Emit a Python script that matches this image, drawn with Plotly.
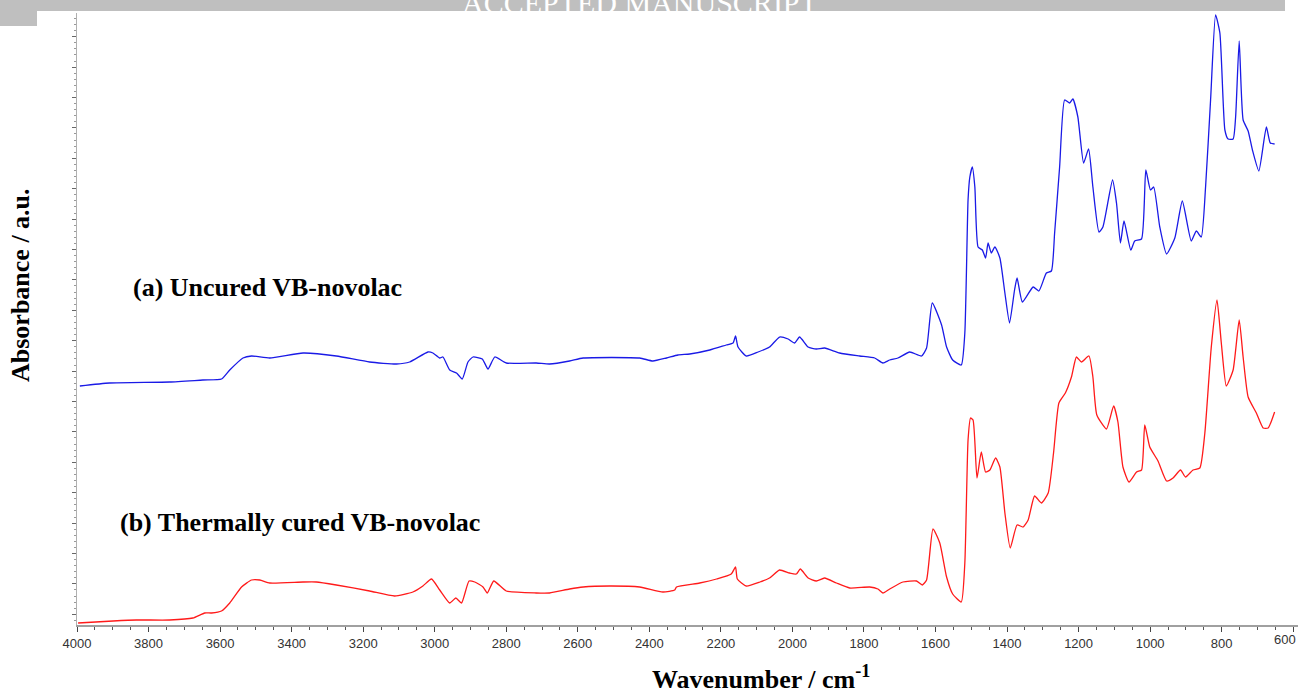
import plotly.graph_objects as go

# (a) Uncured VB-novolac
wn_a = [3992, 3909, 3741, 3648, 3596, 3573, 3536, 3512, 3461, 3368, 3275, 3182, 3107, 3070,
        3019, 3005, 2986, 2977, 2958, 2939, 2923, 2907, 2893, 2867, 2851, 2832, 2800, 2716,
        2679, 2623, 2585, 2427, 2390, 2352, 2320, 2287, 2231, 2185, 2166, 2159, 2152, 2129,
        2096, 2064, 2036, 2012, 1994, 1980, 1956, 1933, 1910, 1868, 1812, 1770, 1747, 1728,
        1705, 1672, 1639, 1625, 1609, 1583, 1569, 1552, 1528, 1518, 1509, 1504, 1497, 1490,
        1481, 1469, 1460, 1453, 1444, 1434, 1420, 1406, 1393, 1379, 1372, 1357, 1327, 1311,
        1290, 1276, 1267, 1253, 1239, 1225, 1216, 1202, 1186, 1172, 1160, 1143, 1132, 1105,
        1094, 1083, 1073, 1054, 1043, 1024, 1012, 999, 990, 973, 954, 931, 910, 885, 871,
        857, 845, 831, 817, 805, 791, 782, 768, 761, 751, 740, 726, 714, 696, 675, 664, 652]
abs_a = [2.39, 2.42, 2.43, 2.45, 2.46, 2.55, 2.67, 2.69, 2.67, 2.72, 2.69, 2.63, 2.61, 2.63,
         2.73, 2.72, 2.67, 2.68, 2.55, 2.52, 2.46, 2.63, 2.68, 2.66, 2.56, 2.68, 2.62, 2.62,
         2.61, 2.64, 2.67, 2.67, 2.64, 2.67, 2.70, 2.71, 2.75, 2.80, 2.82, 2.89, 2.78, 2.69,
         2.73, 2.78, 2.88, 2.86, 2.82, 2.88, 2.78, 2.76, 2.77, 2.72, 2.69, 2.67, 2.62, 2.65,
         2.67, 2.73, 2.69, 2.77, 3.22, 3.00, 2.78, 2.65, 2.60, 2.92, 4.25, 4.48, 4.58, 4.38,
         3.78, 3.75, 3.67, 3.82, 3.72, 3.78, 3.67, 3.32, 3.02, 3.35, 3.47, 3.23, 3.38, 3.34,
         3.52, 3.54, 3.92, 4.58, 5.25, 5.22, 5.26, 5.08, 4.62, 4.76, 4.38, 3.93, 3.98, 4.45,
         4.22, 3.82, 4.04, 3.75, 3.84, 3.86, 4.55, 4.35, 4.38, 3.98, 3.71, 3.87, 4.24, 3.84, 3.94,
         3.88, 4.38, 5.25, 6.10, 5.92, 4.95, 4.86, 4.86, 5.08, 5.84, 5.05, 4.94, 4.75, 4.54, 4.98, 4.82, 4.81]

# (b) Thermally cured VB-novolac
wn_b = [3997, 3899, 3834, 3741, 3676, 3643, 3624, 3596, 3573, 3540, 3512, 3489, 3461, 3368,
        3331, 3275, 3182, 3112, 3061, 3033, 3009, 2986, 2958, 2941, 2925, 2904, 2888, 2865,
        2853, 2835, 2800, 2716, 2679, 2623, 2585, 2511, 2427, 2362, 2329, 2324, 2259, 2212,
        2171, 2159, 2154, 2129, 2091, 2064, 2036, 2008, 1989, 1978, 1956, 1933, 1910, 1877,
        1840, 1784, 1761, 1747, 1728, 1691, 1653, 1637, 1625, 1607, 1588, 1569, 1552, 1528,
        1518, 1509, 1502, 1495, 1484, 1472, 1460, 1448, 1432, 1420, 1406, 1391, 1372, 1355,
        1341, 1323, 1304, 1285, 1270, 1255, 1237, 1220, 1206, 1192, 1171, 1160, 1149, 1122,
        1102, 1090, 1076, 1059, 1038, 1024, 1015, 1001, 978, 954, 936, 915, 901, 880, 861,
        847, 829, 813, 801, 787, 768, 751, 740, 726, 703, 684, 670, 652]
abs_b = [0.02, 0.04, 0.05, 0.05, 0.07, 0.12, 0.12, 0.14, 0.22, 0.38, 0.45, 0.45, 0.42, 0.43,
         0.43, 0.40, 0.34, 0.29, 0.33, 0.39, 0.46, 0.35, 0.22, 0.27, 0.22, 0.44, 0.43, 0.38,
         0.32, 0.44, 0.34, 0.32, 0.32, 0.36, 0.38, 0.39, 0.38, 0.33, 0.35, 0.38, 0.42, 0.46,
         0.51, 0.58, 0.46, 0.39, 0.43, 0.47, 0.55, 0.52, 0.51, 0.56, 0.47, 0.44, 0.47, 0.42,
         0.37, 0.38, 0.36, 0.32, 0.36, 0.43, 0.44, 0.40, 0.45, 0.96, 0.82, 0.48, 0.31, 0.23,
         0.62, 1.85, 2.07, 2.05, 1.47, 1.73, 1.53, 1.55, 1.67, 1.58, 1.12, 0.77, 1.00, 0.98,
         1.05, 1.29, 1.22, 1.32, 1.72, 2.22, 2.32, 2.48, 2.68, 2.63, 2.69, 2.48, 2.10, 1.96,
         2.19, 2.03, 1.58, 1.43, 1.53, 1.55, 2.00, 1.78, 1.64, 1.44, 1.47, 1.55, 1.48, 1.55, 1.57,
         1.92, 2.78, 3.25, 2.82, 2.39, 2.55, 3.05, 2.68, 2.28, 2.12, 1.97, 1.97, 2.13]

x_ticks = [4000, 3800, 3600, 3400, 3200, 3000, 2800, 2600, 2400, 2200, 2000, 1800, 1600,
           1400, 1200, 1000, 800, 600]
edge_tick = 600  # last tick label, drawn flush with the right edge
label_a = "(a) Uncured VB-novolac"
label_b = "(b) Thermally cured VB-novolac"
x_title = "Wavenumber / cm<sup>-1</sup>"
y_title = "Absorbance / a.u."

fig = go.Figure()
fig.add_trace(go.Scatter(x=wn_a, y=abs_a, mode="lines",
                         line=dict(color="#1a1ae6", width=1.3, shape="spline", smoothing=0.5),
                         showlegend=False))
fig.add_trace(go.Scatter(x=wn_b, y=abs_b, mode="lines",
                         line=dict(color="#ff1a1a", width=1.3, shape="spline", smoothing=0.5),
                         showlegend=False))

W, H = 1298, 693
L, R, T, B = 77, 0, 13, 68
pw, ph = W - L - R, H - T - B


def px(xp):
    return (xp - L) / pw


def py(yp):
    return (H - B - yp) / ph


serif = "Liberation Serif, Times New Roman, serif"
tickfam = "Liberation Sans Narrow, Arial Narrow, Liberation Sans, Arial"

fig.update_layout(
    width=W, height=H,
    margin=dict(l=L, r=R, t=T, b=B),
    paper_bgcolor="white", plot_bgcolor="white",
    xaxis=dict(range=[4000, 586.6], tickmode="array", tickvals=x_ticks,
               ticktext=[str(v) if v != edge_tick else "" for v in x_ticks],
               showgrid=False, zeroline=False, showline=True, linecolor="#a0a0a0", linewidth=2,
               ticks="outside", ticklen=5, tickwidth=1, tickcolor="#444",
               tickfont=dict(family=tickfam, size=13, color="#333"),
               minor=dict(dtick=50, tick0=0, ticks="outside", ticklen=3, tickcolor="#555",
                          showgrid=False)),
    yaxis=dict(range=[0, 6.12], showticklabels=False, showgrid=False, zeroline=False,
               showline=True, linecolor="#b0b0b0", linewidth=1,
               ticks="outside", ticklen=4, tickcolor="#666", tick0=0.107, dtick=0.304,
               minor=dict(dtick=0.0608, tick0=0.107, ticks="outside", ticklen=2,
                          tickcolor="#999", showgrid=False)),
    shapes=[
        dict(type="rect", xref="paper", yref="paper", x0=px(0), x1=px(1285), y0=py(11), y1=py(0),
             fillcolor="#bfbfbf", line=dict(width=0), layer="above"),
        dict(type="rect", xref="paper", yref="paper", x0=px(0), x1=px(37), y0=py(26), y1=py(0),
             fillcolor="#bfbfbf", line=dict(width=0), layer="above"),
    ],
    annotations=[
        dict(text="ACCEPTED MANUSCRIPT", xref="paper", yref="paper", x=px(640), y=py(2),
             xanchor="center", yanchor="middle", showarrow=False,
             font=dict(family=serif, size=30, color="white")),
        dict(text=str(edge_tick), xref="paper", yref="paper", x=1.0, y=py(639),
             xanchor="right", yanchor="middle", showarrow=False,
             font=dict(family=tickfam, size=13, color="#333")),
        dict(text="<b>" + label_a + "</b>", xref="paper", yref="paper", x=px(131), y=py(287),
             xanchor="left", yanchor="middle", showarrow=False,
             font=dict(family=serif, size=26, color="black")),
        dict(text="<b>" + label_b + "</b>", xref="paper", yref="paper", x=px(118), y=py(522),
             xanchor="left", yanchor="middle", showarrow=False,
             font=dict(family=serif, size=26, color="black")),
        dict(text="<b>" + x_title + "</b>", xref="paper", yref="paper", x=px(650), y=py(677),
             xanchor="left", yanchor="middle", showarrow=False,
             font=dict(family=serif, size=26, color="black")),
        dict(text="<b>" + y_title + "</b>", xref="paper", yref="paper", x=px(20), y=py(285),
             xanchor="center", yanchor="middle", showarrow=False, textangle=-90,
             font=dict(family=serif, size=26, color="black")),
    ],
)

fig.write_html("out.html")
